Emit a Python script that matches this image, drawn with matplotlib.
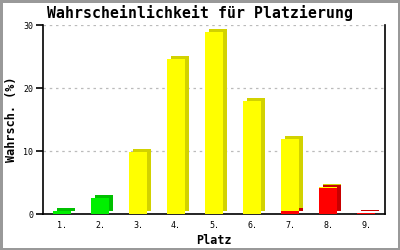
import matplotlib
matplotlib.use("Agg")
import matplotlib.pyplot as plt
from matplotlib.transforms import offset_copy
import numpy as np

categories = ["1.", "2.", "3.", "4.", "5.", "6.", "7.", "8.", "9."]
red_vals = [0, 0, 0, 0, 0, 0, 0.4, 4.1, 0.2]
yellow_vals = [0, 0, 9.8, 24.6, 28.9, 17.9, 11.5, 0.15, 0]
green_vals = [0.4, 2.5, 0, 0, 0, 0, 0, 0, 0]
yticks = [0, 10, 20, 30]

series = [
    (red_vals, "#ff0000", "#c80000"),
    (yellow_vals, "#ffff00", "#d2d200"),
    (green_vals, "#00f000", "#00c000"),
]

fig = plt.figure(figsize=(4, 2.5), dpi=100)
fig.patch.set_facecolor("white")
fig.patch.set_edgecolor("#999999")
fig.patch.set_linewidth(2.5)
ax = fig.add_axes([0.1075, 0.144, 0.855, 0.755])

x = np.arange(1, len(categories) + 1)
width = 0.45
ax.set_xlim(0.5, len(categories) + 0.5)
ax.set_ylim(0, 30)

shadow_tr = offset_copy(ax.transData, fig=fig, x=4, y=3, units="dots")

bottoms = np.zeros(len(categories))
segs = []
for vals, col, dark in series:
    v = np.array(vals, dtype=float)
    segs.append((v, bottoms.copy(), col, dark))
    bottoms = bottoms + v

for v, b, col, dark in segs:
    m = v > 0
    ax.bar(x[m], v[m], width, bottom=b[m], color=dark, linewidth=0,
           transform=shadow_tr, zorder=2, clip_on=False)
for v, b, col, dark in segs:
    m = v > 0
    ax.bar(x[m], v[m], width, bottom=b[m], color=col, linewidth=0, zorder=3)

ax.set_yticks(yticks)
ax.set_xticks(x)
ax.set_xticklabels(categories)
ax.yaxis.grid(True, linestyle=(0, (2, 3)), color="#bbbbbb", linewidth=0.9)
ax.set_axisbelow(True)
ax.spines["top"].set_visible(False)
for s in ["left", "right", "bottom"]:
    ax.spines[s].set_linewidth(1.2)
    ax.spines[s].set_color("black")
ax.tick_params(axis="x", length=0, pad=5, labelsize=6)
ax.tick_params(axis="y", length=5, width=1.2, pad=2, labelsize=6)
for lab in ax.get_xticklabels() + ax.get_yticklabels():
    lab.set_fontfamily("DejaVu Sans Mono")

ax.set_xlabel("Platz", fontfamily="DejaVu Sans Mono", fontweight="bold",
              fontsize=8.5, labelpad=3)
ax.set_ylabel("Wahrsch. (%)", fontfamily="DejaVu Sans Mono", fontweight="bold",
              fontsize=8.5, labelpad=4)
fig.text(0.5, 0.948, "Wahrscheinlichkeit für Platzierung", ha="center", va="center",
         fontfamily="DejaVu Sans Mono", fontweight="bold", fontsize=10.7)

fig.savefig("out.png", dpi=100, facecolor=fig.get_facecolor(),
            edgecolor=fig.get_edgecolor())
